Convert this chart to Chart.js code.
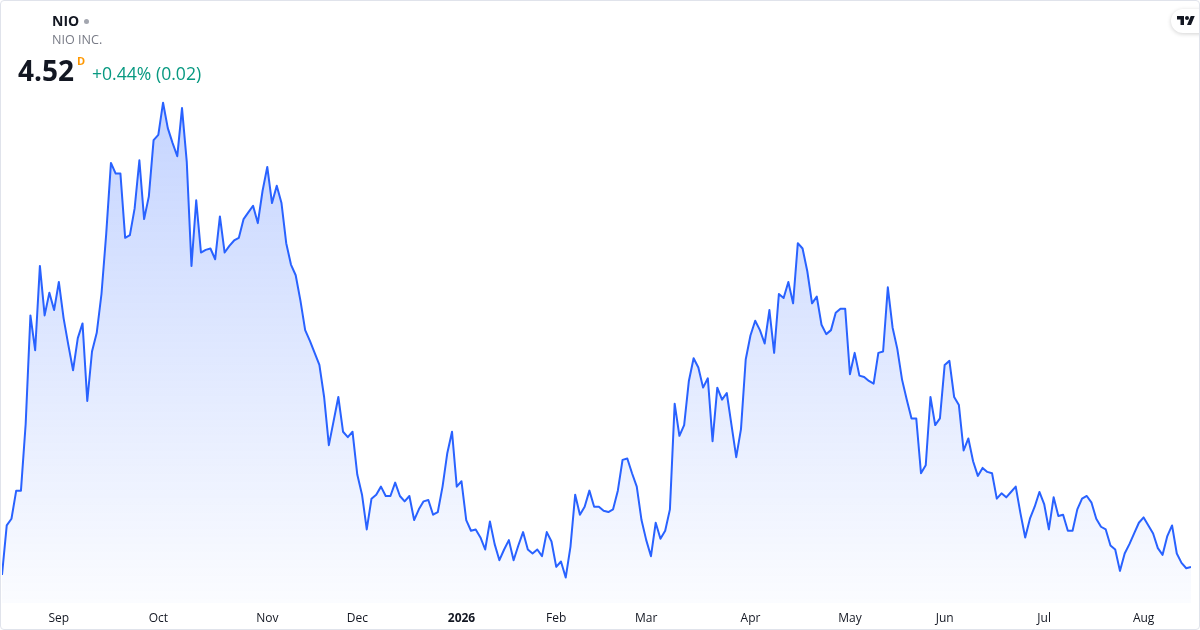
<!DOCTYPE html>
<html>
<head>
<meta charset="utf-8">
<script src="https://cdn.jsdelivr.net/npm/chart.js@4.4.1/dist/chart.umd.min.js"></script>
<style>
  html, body { margin: 0; padding: 0; background: #fff; }
  #wrap { position: relative; width: 1200px; height: 630px; overflow: hidden; font-family: 'Open Sans', sans-serif; color: #131722; }
  #chart { position: absolute; left: 0; top: 0; }
  #frame { position: absolute; left: 0; top: 0; right: 0; bottom: 0; border: 1px solid #e0e3eb; border-radius: 4px; pointer-events: none; }
  .sym { position: absolute; left: 52px; top: 11.5px; font-size: 14px; line-height: 18px; font-weight: 700; white-space: nowrap; }
  .dot { display: inline-block; width: 5px; height: 5px; border-radius: 50%; background: #a3a6af; margin-left: 5px; vertical-align: 2px; }
  .name { position: absolute; left: 52px; top: 31px; font-size: 12.6px; line-height: 18px; color: #787b86; white-space: nowrap; }
  .price { position: absolute; left: 18px; top: 53px; font-size: 28px; line-height: 34px; font-weight: 700; white-space: nowrap; }
  .flag { position: absolute; left: 77px; top: 53.6px; font-size: 11px; line-height: 14px; font-weight: 700; color: #ff9800; }
  .chg { position: absolute; left: 92px; top: 62.2px; font-size: 17.6px; line-height: 22px; color: #089981; white-space: nowrap; }
  .logo { position: absolute; left: 1171px; top: 9px; width: 44px; height: 24px; border-radius: 12px; background: #fff; box-shadow: 0 1px 4px rgba(0,0,0,0.18); }
  .logo svg { position: absolute; left: 6px; top: 5px; }
</style>
</head>
<body>
<div id="wrap">
  <canvas id="chart" width="1200" height="630"></canvas>
  <div class="sym">NIO<span class="dot"></span></div>
  <div class="name">NIO INC.</div>
  <div class="price">4.52</div>
  <div class="flag">D</div>
  <div class="chg">+0.44% (0.02)</div>
  <div class="logo"><svg width="18" height="14" viewBox="0 0 36 28"><path fill="#131722" d="M14 22H7V11H0V4h14v18zM28 22h-8l7.5-18h8L28 22z"/><circle fill="#131722" cx="20" cy="8" r="4"/></svg></div>
  <div id="frame"></div>
</div>
<script>
// Daily closes, NIO, mid Aug 2025 -> mid Aug 2026
const closePrices = [
  4.46, 4.83, 4.88, 5.09, 5.09, 5.59, 6.40, 6.14, 6.77, 6.40, 6.57, 6.44,
  6.65, 6.38, 6.18, 5.99, 6.23, 6.34, 5.76, 6.13, 6.27, 6.56, 7.01, 7.54,
  7.46, 7.46, 6.98, 7.00, 7.20, 7.56, 7.12, 7.29, 7.71, 7.75, 7.99, 7.80,
  7.69, 7.59, 7.95, 7.55, 6.77, 7.26, 6.87, 6.89, 6.90, 6.82, 7.14, 6.87,
  6.92, 6.96, 6.98, 7.12, 7.17, 7.22, 7.09, 7.33, 7.51, 7.24, 7.37, 7.24,
  6.94, 6.78, 6.70, 6.51, 6.29, 6.21, 6.12, 6.03, 5.79, 5.43, 5.61, 5.79,
  5.53, 5.49, 5.53, 5.21, 5.06, 4.80, 5.03, 5.06, 5.12, 5.05, 5.05, 5.15,
  5.05, 5.01, 5.05, 4.87, 4.95, 5.01, 5.02, 4.91, 4.93, 5.12, 5.37, 5.53,
  5.12, 5.16, 4.87, 4.79, 4.80, 4.74, 4.65, 4.86, 4.69, 4.57, 4.65, 4.72,
  4.57, 4.68, 4.78, 4.65, 4.62, 4.65, 4.60, 4.78, 4.71, 4.52, 4.56, 4.44,
  4.67, 5.06, 4.91, 4.97, 5.09, 4.97, 4.97, 4.94, 4.93, 4.95, 5.09, 5.32,
  5.33, 5.22, 5.12, 4.87, 4.72, 4.60, 4.85, 4.73, 4.79, 4.95, 5.74, 5.50,
  5.58, 5.91, 6.08, 6.01, 5.86, 5.93, 5.46, 5.86, 5.77, 5.82, 5.58, 5.34,
  5.55, 6.07, 6.25, 6.36, 6.29, 6.19, 6.44, 6.12, 6.56, 6.53, 6.65, 6.49,
  6.94, 6.90, 6.73, 6.49, 6.54, 6.33, 6.26, 6.29, 6.42, 6.45, 6.45, 5.96,
  6.12, 5.95, 5.94, 5.91, 5.89, 6.12, 6.13, 6.61, 6.31, 6.15, 5.92, 5.77,
  5.63, 5.63, 5.22, 5.28, 5.79, 5.58, 5.63, 6.03, 6.06, 5.79, 5.73, 5.39,
  5.48, 5.31, 5.20, 5.26, 5.23, 5.22, 5.03, 5.07, 5.04, 5.08, 5.12, 4.92,
  4.74, 4.88, 4.97, 5.08, 4.99, 4.80, 5.04, 4.90, 4.91, 4.79, 4.79, 4.95,
  5.03, 5.05, 5.00, 4.88, 4.82, 4.80, 4.68, 4.65, 4.49, 4.62, 4.69, 4.77,
  4.85, 4.89, 4.83, 4.77, 4.66, 4.61, 4.75, 4.83, 4.62, 4.55, 4.51, 4.52
];

// first trading day of each month (bar index) and its label
const monthTickIdx = [12, 33, 56, 75, 97, 117, 136, 158, 179, 199, 220, 241];
const monthTickText = ['Sep', 'Oct', 'Nov', 'Dec', '2026', 'Feb', 'Mar', 'Apr', 'May', 'Jun', 'Jul', 'Aug'];

const lineBlue = '#2962ff';

new Chart(document.getElementById('chart'), {
  type: 'line',
  data: {
    datasets: [{
      label: 'NIO',
      data: closePrices.map((v, i) => ({ x: i, y: v })),
      borderColor: lineBlue,
      borderWidth: 2,
      borderJoinStyle: 'round',
      pointRadius: 0,
      tension: 0,
      fill: 'start',
      backgroundColor: (ctx) => {
        const area = ctx.chart.chartArea;
        if (!area) return 'rgba(41, 98, 255, 0.15)';
        const g = ctx.chart.ctx.createLinearGradient(0, area.top, 0, area.bottom);
        g.addColorStop(0, 'rgba(41, 98, 255, 0.28)');
        g.addColorStop(1, 'rgba(41, 98, 255, 0.02)');
        return g;
      }
    }]
  },
  options: {
    responsive: false,
    animation: false,
    devicePixelRatio: 1,
    layout: { padding: { top: 88, left: 2, right: 9, bottom: 0 } },
    plugins: {
      legend: { display: false },
      tooltip: { enabled: false }
    },
    scales: {
      x: {
        type: 'linear',
        min: 0,
        max: closePrices.length - 1,
        grid: { display: false, drawTicks: false },
        border: { display: false },
        afterBuildTicks: (s) => { s.ticks = monthTickIdx.map(v => ({ value: v })); },
        afterFit: (s) => { s.height = 27; },
        ticks: {
          autoSkip: false,
          maxRotation: 0,
          padding: 8,
          color: '#131722',
          font: (c) => ({ family: "'Open Sans', sans-serif", size: 12, weight: c.tick && c.tick.value === 97 ? 'bold' : 'normal' }),
          callback: (v) => monthTickText[monthTickIdx.indexOf(v)]
        }
      },
      y: {
        display: false,
        min: 4.25,
        max: 8.10
      }
    }
  }
});
</script>
</body>
</html>
